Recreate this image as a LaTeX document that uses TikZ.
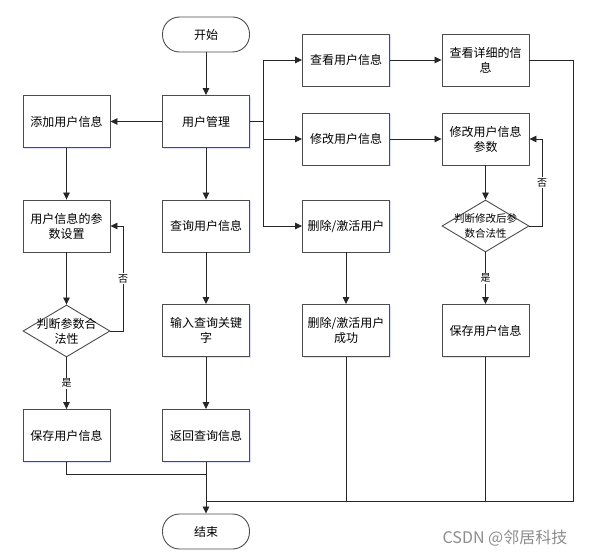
\documentclass[tikz,border=0pt]{standalone}
\usepackage{fontspec}
\setmainfont{Noto Sans CJK SC}
\usetikzlibrary{shapes.geometric,shadows,arrows.meta}

\begin{document}
\begin{tikzpicture}[x=1pt,y=-1pt,
	box/.style={draw=black!70,fill=white,line width=0.9pt,minimum width=87pt,minimum height=52pt,
		inner sep=1pt,align=center,font=\fontsize{12}{15}\selectfont,
		drop shadow={shadow xshift=1pt,shadow yshift=-1.2pt,fill=blue!25,opacity=0.5}},
	term/.style={draw=black!70,fill=white,line width=0.9pt,rounded corners=17pt,minimum width=87pt,
		minimum height=35pt,font=\fontsize{12}{15}\selectfont},
	decision/.style={shape=diamond,draw=black!70,fill=white,line width=0.9pt,inner sep=0pt,
		minimum width=87pt,minimum height=52pt},
	dtext/.style={align=center,inner sep=0pt},
	lbl/.style={fill=white,inner sep=1pt,font=\fontsize{10}{12}\selectfont},
	line/.style={draw=black!85,line width=0.8pt},
	arr/.style={line,-{Triangle[length=7pt,width=6.5pt]}}]
	\useasboundingbox (0,0) rectangle (589,556);

	\node[term] (start) at (206,34.5) {开始};
	\node[box] (manage) at (206,121.5) {用户管理};
	\node[box] (add) at (66.5,121.5) {添加用户信息};
	\node[box] (param) at (66.5,226) {用户信息的参\\数设置};
	\node[decision,label={[dtext,font=\fontsize{12}{15}\selectfont]center:判断参数合\\法性}] (check) at (66.5,331) {};
	\node[box] (saveadd) at (66.5,435.5) {保存用户信息};
	\node[box] (query) at (206,226) {查询用户信息};
	\node[box] (input) at (206,330.5) {输入查询关键\\字};
	\node[box] (ret) at (206,435.5) {返回查询信息};
	\node[term] (end) at (206,531.5) {结束};
	\node[box] (view) at (346,60) {查看用户信息};
	\node[box] (detail) at (485.5,60) {查看详细的信\\息};
	\node[box] (modify) at (346,139) {修改用户信息};
	\node[box] (modparam) at (485.5,139) {修改用户信息\\参数};
	\node[decision,label={[dtext,font=\fontsize{10.5}{14}\selectfont]center:判断修改后参\\数合法性}] (modcheck) at (485.5,226) {};
	\node[box] (savemod) at (485.5,330.5) {保存用户信息};
	\node[box] (del) at (346,226) {删除/激活用户};
	\node[box] (delok) at (346,330.5) {删除/激活用户\\成功};
	\node[text=black!45,font=\fontsize{16}{18}\selectfont] (mark) at (505,538) {CSDN @邻居科技};

	\coordinate (br) at (263,121.5);
	\coordinate (lp) at (123,331);
	\coordinate (rp) at (542,226);
	\coordinate (m1) at (206,474);
	\coordinate (m2) at (206,501);
	\coordinate (rr) at (573,501);

	\path[arr] (start) -- (manage);
	\path[arr] (manage) -- (add);
	\path[arr] (manage) -- (query);
	\path[line] (manage) -- (br);
	\path[arr] (br) |- (view);
	\path[arr] (br) |- (modify);
	\path[arr] (br) |- (del);
	\path[arr] (view) -- (detail);
	\path[arr] (modify) -- (modparam);
	\path[arr] (modparam) -- (modcheck);
	\path[arr] (modcheck.east) -- (rp) -- node[lbl] {否} (rp |- modparam.east) -- (modparam.east);
	\path[arr] (modcheck) -- node[lbl] {是} (savemod);
	\path[arr] (del) -- (delok);
	\path[arr] (add) -- (param);
	\path[arr] (param) -- (check);
	\path[arr] (check.east) -- (lp) -- node[lbl] {否} (lp |- param.east) -- (param.east);
	\path[arr] (check) -- node[lbl] {是} (saveadd);
	\path[arr] (query) -- (input);
	\path[arr] (input) -- (ret);
	\path[arr] (ret) -- (end);
	\path[line] (saveadd.south) |- (m1);
	\path[line] (detail.east) -| (rr) -- (m2);
	\path[line] (delok.south) -- (delok.south |- m2);
	\path[line] (savemod.south) -- (savemod.south |- m2);
\end{tikzpicture}
\end{document}
